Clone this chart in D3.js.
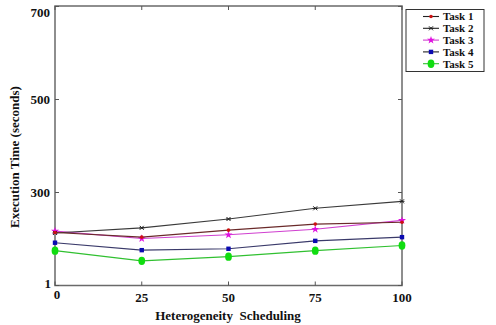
<!DOCTYPE html>
<html><head><meta charset="utf-8">
<script src="https://cdn.jsdelivr.net/npm/d3@7"></script>
<style>body{margin:0;background:#fff;}svg{display:block;}</style>
</head><body>
<svg id="chart" width="496" height="325"></svg>
<script>
const categories = [0, 25, 50, 75, 100];
const yTickValues = [100, 300, 500, 700];
const yTickLabels = ["1", "300", "500", "700"];
const seriesNames = ["Task 1", "Task 2", "Task 3", "Task 4", "Task 5"];
const task1 = [214, 204, 219, 232, 236];
const task2 = [213, 224, 243, 266, 281];
const task3 = [217, 201, 209, 221, 240];
const task4 = [192, 176, 179, 196, 204];
const task5 = [175, 153, 162, 175, 186];
const seriesValues = [task1, task2, task3, task4, task5];

const lineColors = ["#6a2a2a", "#3a3a3a", "#d040d0", "#3a3a6a", "#30c030"];
const markColors = ["#cc1111", "#222222", "#e010e0", "#0a0ab0", "#10dd10"];
const markTypes = ["circle", "x", "star", "square", "diamond"];

const svg = d3.select("#chart");
const L = 55, R = 402, T = 6, B = 285.5;
const x = d3.scaleLinear().domain([0, 100]).range([L, R]);
const y = d3.scaleLinear().domain([100, 700]).range([B, T + 0.5]);
const font = "'Liberation Serif', 'Times New Roman', serif";

// frame
svg.append("rect").attr("x", L).attr("y", T).attr("width", R - L).attr("height", B - T)
  .attr("fill", "none").attr("stroke", "#6a6a6a").attr("stroke-width", 1.5);

// ticks inside (mirrored)
const tl = 4;
yTickValues.forEach(v => {
  const yy = y(v);
  svg.append("line").attr("x1", L).attr("x2", L + tl).attr("y1", yy).attr("y2", yy).attr("stroke", "#555");
  svg.append("line").attr("x1", R).attr("x2", R - tl).attr("y1", yy).attr("y2", yy).attr("stroke", "#555");
});
categories.forEach(v => {
  const xx = x(v);
  svg.append("line").attr("x1", xx).attr("x2", xx).attr("y1", B).attr("y2", B - tl).attr("stroke", "#555");
  svg.append("line").attr("x1", xx).attr("x2", xx).attr("y1", T).attr("y2", T + tl).attr("stroke", "#555");
});

// y tick labels
yTickValues.forEach((v, i) => {
  let yy = y(v);
  if (i === 0) yy = yy - 2;
  if (i === yTickValues.length - 1) yy = Math.max(yy, 12);
  svg.append("text").attr("x", i === 0 ? 51 : 50).attr("y", yy).attr("dy", "0.35em")
    .attr("text-anchor", "end").attr("font-family", font).attr("font-weight", "bold")
    .attr("font-size", 13).attr("fill", "#111").text(yTickLabels[i]);
});
// x tick labels
categories.forEach((v, i) => {
  svg.append("text").attr("x", x(v) + (i === 0 ? 2 : 0)).attr("y", i === 0 ? 294 : 297).attr("dy", "0.35em")
    .attr("text-anchor", "middle").attr("font-family", font).attr("font-weight", "bold")
    .attr("font-size", 13).attr("fill", "#111").text(v);
});

// axis titles
svg.append("text").attr("x", 228).attr("y", 315).attr("dy", "0.35em")
  .attr("text-anchor", "middle").attr("font-family", font).attr("font-weight", "bold")
  .attr("font-size", 13).attr("fill", "#111").attr("xml:space", "preserve")
  .text("Heterogeneity  Scheduling");
svg.append("text").attr("transform", "translate(14,157) rotate(-90)").attr("dy", "0.35em")
  .attr("text-anchor", "middle").attr("font-family", font).attr("font-weight", "bold")
  .attr("font-size", 13).attr("fill", "#111").text("Execution Time (seconds)");

function drawMarker(g, type, cx, cy, color) {
  if (type === "circle") {
    g.append("circle").attr("cx", cx).attr("cy", cy).attr("r", 1.8).attr("fill", color);
  } else if (type === "x") {
    g.append("path").attr("d", `M${cx-2},${cy-2}L${cx+2},${cy+2}M${cx-2},${cy+2}L${cx+2},${cy-2}M${cx-2.5},${cy}L${cx+2.5},${cy}`)
      .attr("stroke", color).attr("stroke-width", 1);
  } else if (type === "star") {
    g.append("path").attr("d", d3.symbol(d3.symbolStar, 20)()).attr("transform", `translate(${cx},${cy})`).attr("fill", color);
  } else if (type === "square") {
    g.append("rect").attr("x", cx - 2.2).attr("y", cy - 2.2).attr("width", 4.4).attr("height", 4.4).attr("fill", color);
  } else if (type === "diamond") {
    g.append("ellipse").attr("cx", cx).attr("cy", cy).attr("rx", 3.4).attr("ry", 4.2).attr("fill", color);
  }
}

const line = d3.line().x((d, i) => x(categories[i])).y(d => y(d));
[4, 3, 2, 1, 0].forEach(s => {
  const g = svg.append("g");
  g.append("path").datum(seriesValues[s]).attr("d", line).attr("fill", "none")
    .attr("stroke", lineColors[s]).attr("stroke-width", 1.1);
  seriesValues[s].forEach((v, i) => drawMarker(g, markTypes[s], x(categories[i]), y(v), markColors[s]));
});

// legend
const lg = svg.append("g");
lg.append("rect").attr("x", 406).attr("y", 9.5).attr("width", 78).attr("height", 62)
  .attr("fill", "#fff").attr("stroke", "#333").attr("stroke-width", 1);
seriesNames.forEach((n, i) => {
  const yy = 16.5 + i * 11.8;
  lg.append("line").attr("x1", 423).attr("x2", 439).attr("y1", yy).attr("y2", yy)
    .attr("stroke", i === 2 ? lineColors[2] : (i === 4 ? lineColors[4] : "#222")).attr("stroke-width", 1.1);
  drawMarker(lg, markTypes[i], 431, yy, markColors[i]);
  lg.append("text").attr("x", 443).attr("y", yy).attr("dy", "0.35em")
    .attr("font-family", font).attr("font-weight", "bold").attr("font-size", 11)
    .attr("fill", "#111").text(n);
});
</script>
</body></html>
